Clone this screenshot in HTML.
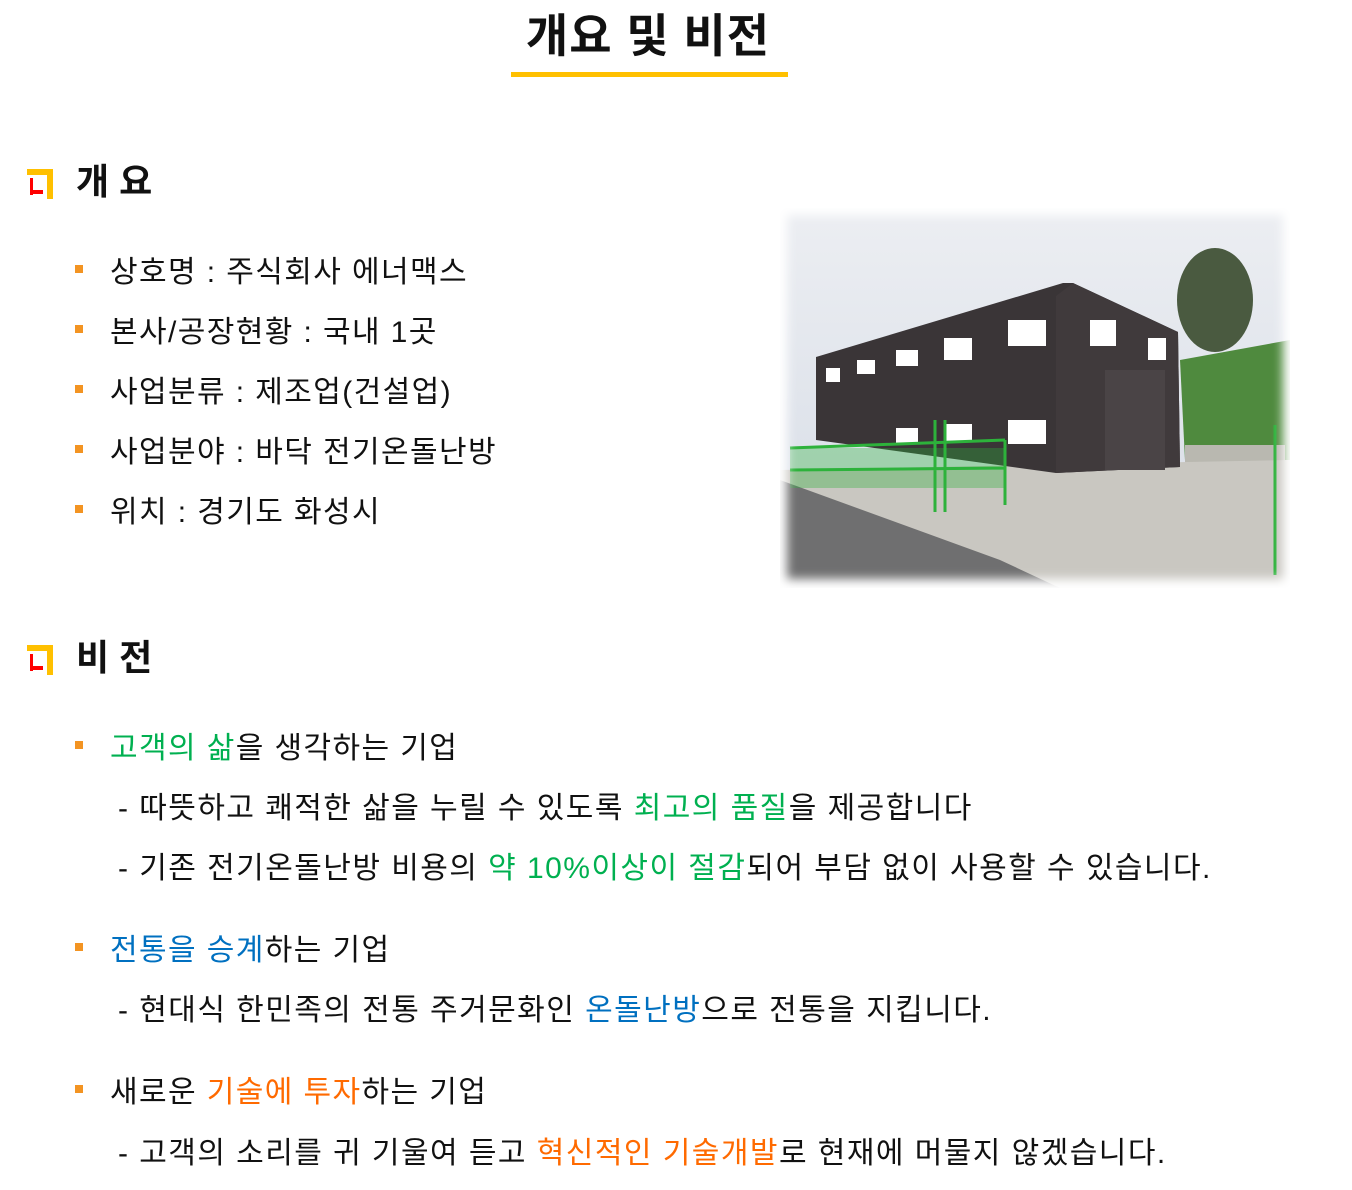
<!DOCTYPE html>
<html><head><meta charset="utf-8"><style>
body{margin:0;width:1352px;height:1190px;background:#fff;position:relative;overflow:hidden;font-family:"Liberation Sans","Noto Sans CJK KR",sans-serif;color:#111}
.t{position:absolute;white-space:nowrap;line-height:1}
.title{left:0;width:1296px;text-align:center;top:13px;font-size:46px;font-weight:bold;letter-spacing:1px}
.ul{position:absolute;left:511px;top:72px;width:277px;height:5px;background:#ffc000}
.h{font-size:36px;font-weight:bold;left:76px}
.b{font-size:30px;left:110px;letter-spacing:1.4px}
.d{font-size:30px;left:118px;letter-spacing:1.45px}
.sq{position:absolute;left:75px;width:8px;height:8px;background:#f39422}
.g{color:#00b050}.bl{color:#0070c0}.o{color:#ff6a00}
.ic{position:absolute;left:27px;width:30px;height:30px}
</style></head><body>
<div class="t title">개요 및 비전</div>
<div class="ul"></div>

<svg class="ic" style="top:169px" viewBox="0 0 30 30"><rect x="0" y="0" width="26" height="6" fill="#ffc000"/><rect x="20" y="0" width="6" height="30" fill="#ffc000"/><rect x="3" y="9" width="3" height="17" fill="#f00"/><rect x="3" y="21" width="13" height="4" fill="#f00"/></svg>
<div class="t h" style="top:164px">개 요</div>

<div class="sq" style="top:265px"></div><div class="t b" style="top:258px">상호명 : 주식회사 에너맥스</div>
<div class="sq" style="top:325px"></div><div class="t b" style="top:318px">본사/공장현황 : 국내 1곳</div>
<div class="sq" style="top:385px"></div><div class="t b" style="top:378px">사업분류 : 제조업(건설업)</div>
<div class="sq" style="top:445px"></div><div class="t b" style="top:438px">사업분야 : 바닥 전기온돌난방</div>
<div class="sq" style="top:505px"></div><div class="t b" style="top:498px">위치 : 경기도 화성시</div>

<svg style="position:absolute;left:780px;top:208px" width="510" height="380" viewBox="780 208 510 380">
<defs><filter id="f"><feGaussianBlur stdDeviation="5"/></filter>
<linearGradient id="sky" x1="0" y1="0" x2="0" y2="1"><stop offset="0" stop-color="#eceef2"/><stop offset="1" stop-color="#d6dce6"/></linearGradient>
<mask id="m"><rect x="787" y="215" width="496" height="364" fill="#fff" filter="url(#f)"/></mask></defs>
<g mask="url(#m)">
<rect x="780" y="208" width="510" height="380" fill="url(#sky)"/>
<ellipse cx="1215" cy="300" rx="38" ry="52" fill="#4a5a40"/>
<polygon points="1180,360 1290,340 1290,460 1185,460" fill="#4f8a3e"/>
<rect x="1185" y="445" width="100" height="25" fill="#b9b8b0"/>
<polygon points="780,470 1290,460 1290,588 780,588" fill="#c9c7c1"/>
<polygon points="780,480 1000,560 1060,588 780,588" fill="#6f6f70"/>
<polygon points="816,357 1063,283 1073,283 1178,332 1180,467 1056,473 816,440" fill="#3a3537"/>
<polygon points="1056,296 1073,283 1178,332 1180,467 1056,473" fill="#403a3c"/>
<g fill="#fff"><rect x="826" y="368" width="14" height="14"/><rect x="857" y="360" width="18" height="14"/><rect x="896" y="350" width="22" height="16"/><rect x="944" y="338" width="28" height="22"/><rect x="1008" y="320" width="38" height="26"/><rect x="1090" y="320" width="26" height="26"/><rect x="1148" y="338" width="18" height="22"/><rect x="1008" y="420" width="38" height="24"/><rect x="944" y="424" width="28" height="18"/><rect x="896" y="428" width="22" height="16"/></g>
<rect x="1105" y="370" width="60" height="100" fill="#4a4446"/>
<g stroke="#2db23b" stroke-width="3" fill="none"><path d="M790 448 L1005 440 M790 470 L1005 468 M935 420 V512 M945 420 V512 M1005 440 V505 M1275 425 V575"/></g>
<rect x="790" y="448" width="215" height="40" fill="#2db23b" opacity=".35"/>
</g></svg>

<svg class="ic" style="top:645px" viewBox="0 0 30 30"><rect x="0" y="0" width="26" height="6" fill="#ffc000"/><rect x="20" y="0" width="6" height="30" fill="#ffc000"/><rect x="3" y="9" width="3" height="17" fill="#f00"/><rect x="3" y="21" width="13" height="4" fill="#f00"/></svg>
<div class="t h" style="top:640px">비 전</div>

<div class="sq" style="top:741px"></div><div class="t b" style="top:734px"><span class="g">고객의 삶</span>을 생각하는 기업</div>
<div class="t d" style="top:794px">- 따뜻하고 쾌적한 삶을 누릴 수 있도록 <span class="g">최고의 품질</span>을 제공합니다</div>
<div class="t d" style="top:854px">- 기존 전기온돌난방 비용의 <span class="g">약 10%이상이 절감</span>되어 부담 없이 사용할 수 있습니다.</div>

<div class="sq" style="top:943px"></div><div class="t b" style="top:936px"><span class="bl">전통을 승계</span>하는 기업</div>
<div class="t d" style="top:996px">- 현대식 한민족의 전통 주거문화인 <span class="bl">온돌난방</span>으로 전통을 지킵니다.</div>

<div class="sq" style="top:1085px"></div><div class="t b" style="top:1078px">새로운 <span class="o">기술에 투자</span>하는 기업</div>
<div class="t d" style="top:1139px">- 고객의 소리를 귀 기울여 듣고 <span class="o">혁신적인 기술개발</span>로 현재에 머물지 않겠습니다.</div>
</body></html>
